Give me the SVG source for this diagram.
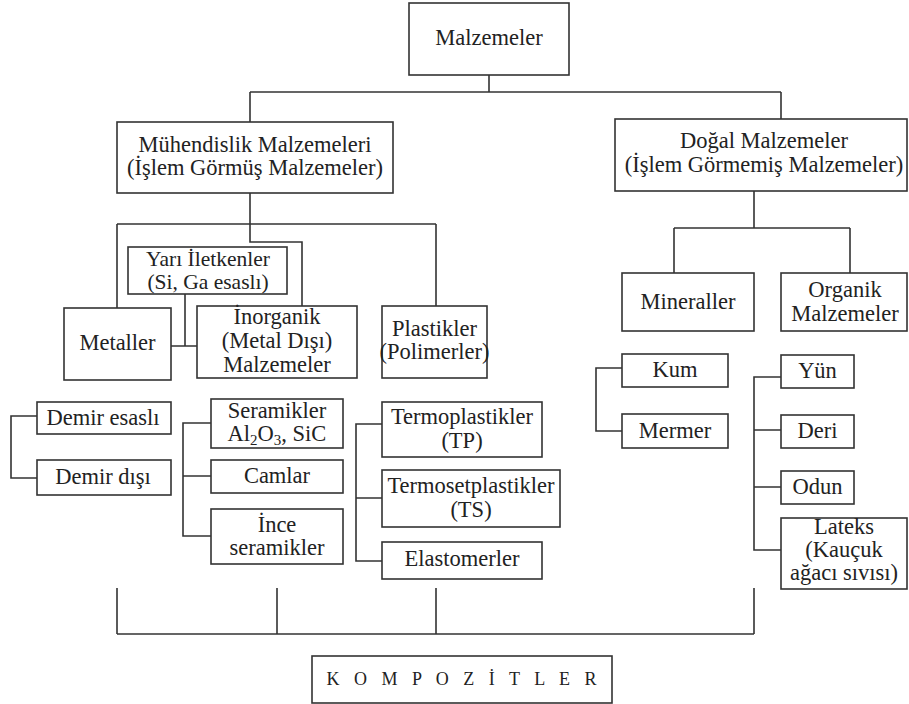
<svg xmlns="http://www.w3.org/2000/svg" width="909" height="704" viewBox="0 0 909 704">
<style>
.box{fill:#fff;stroke:#333;stroke-width:1.6}
.t{font-family:"Liberation Serif","Times New Roman",serif;font-size:22.5px;fill:#222;text-anchor:middle}
.s{font-size:21.5px}
.k{font-family:"Liberation Serif","Times New Roman",serif;font-size:18px;fill:#222;text-anchor:middle;letter-spacing:5px}
.c{fill:none;stroke:#333;stroke-width:1.6}
</style>
<rect width="909" height="704" fill="#fff"/>
<g id="connectors" class="c">
<path d="M489,75V92M250,92H781M250,92V122M781,92V119"/>
<path d="M250,193V242H302V306M117,224H436M117,224V308M436,224V306"/>
<path d="M185,294V346M171,346H197"/>
<path d="M754,191V228M674,228H850M674,228V273M850,228V273"/>
<path d="M37,416H11V478H37"/>
<path d="M211,423H183V536H211M183,476H211"/>
<path d="M382,424H356V561H382M356,498H382"/>
<path d="M622,368H596V431H622"/>
<path d="M781,377H754V550H781M754,430H781M754,487H781"/>
<path d="M117,588V634M277,588V634M436,588V634M754,588V634M117,634H754"/>
</g>
<g id="malzemeler"><rect class="box" x="409" y="3" width="160" height="72"/><text class="t" x="489" y="45">Malzemeler</text></g>
<g id="muhendislik"><rect class="box" x="117" y="122" width="276" height="71"/><text class="t" x="255" y="152">Mühendislik Malzemeleri</text><text class="t" x="255" y="175">(İşlem Görmüş Malzemeler)</text></g>
<g id="dogal"><rect class="box" x="615" y="119" width="292" height="72"/><text class="t" x="764" y="148">Doğal Malzemeler</text><text class="t" x="764" y="172">(İşlem Görmemiş Malzemeler)</text></g>
<g id="yari"><rect class="box" x="128" y="247" width="159" height="47"/><text class="t s" x="208" y="266">Yarı İletkenler</text><text class="t s" x="208" y="289">(Si, Ga esaslı)</text></g>
<g id="metaller"><rect class="box" x="64" y="308" width="107" height="72"/><text class="t" x="117.5" y="350">Metaller</text></g>
<g id="inorganik"><rect class="box" x="197" y="306" width="160" height="72"/><text class="t" x="277" y="324">İnorganik</text><text class="t" x="277" y="348">(Metal Dışı)</text><text class="t" x="277" y="372">Malzemeler</text></g>
<g id="plastikler"><rect class="box" x="382" y="306" width="105" height="72"/><text class="t" x="434.5" y="336">Plastikler</text><text class="t" x="434.5" y="359">(Polimerler)</text></g>
<g id="mineraller"><rect class="box" x="622" y="273" width="132" height="58"/><text class="t" x="688" y="309">Mineraller</text></g>
<g id="organik"><rect class="box" x="781" y="273" width="126" height="58"/><text class="t" x="845" y="297">Organik</text><text class="t" x="845" y="321">Malzemeler</text></g>
<g id="demir-esasli"><rect class="box" x="37" y="402" width="134" height="32"/><text class="t" x="103" y="425">Demir esaslı</text></g>
<g id="demir-disi"><rect class="box" x="37" y="460" width="134" height="35"/><text class="t" x="103" y="484">Demir dışı</text></g>
<g id="seramikler"><rect class="box" x="211" y="399" width="132" height="49"/><text class="t" x="277" y="418">Seramikler</text><text class="t" x="277" y="441">Al<tspan font-size="15" dy="4">2</tspan><tspan dy="-4">O</tspan><tspan font-size="15" dy="4">3</tspan><tspan dy="-4">, SiC</tspan></text></g>
<g id="camlar"><rect class="box" x="211" y="460" width="132" height="33"/><text class="t" x="277" y="483">Camlar</text></g>
<g id="ince"><rect class="box" x="211" y="509" width="132" height="55"/><text class="t" x="277" y="532">İnce</text><text class="t" x="277" y="555">seramikler</text></g>
<g id="termoplastikler"><rect class="box" x="382" y="402" width="160" height="55"/><text class="t" x="462" y="424">Termoplastikler</text><text class="t" x="462" y="448">(TP)</text></g>
<g id="termoset"><rect class="box" x="382" y="470" width="178" height="57"/><text class="t" x="471" y="493">Termosetplastikler</text><text class="t" x="471" y="517">(TS)</text></g>
<g id="elastomerler"><rect class="box" x="382" y="542" width="160" height="37"/><text class="t" x="462" y="566">Elastomerler</text></g>
<g id="kum"><rect class="box" x="622" y="354" width="106" height="33"/><text class="t" x="675" y="377">Kum</text></g>
<g id="mermer"><rect class="box" x="622" y="414" width="106" height="34"/><text class="t" x="675" y="438">Mermer</text></g>
<g id="yun"><rect class="box" x="781" y="355" width="73" height="33"/><text class="t" x="817.5" y="378">Yün</text></g>
<g id="deri"><rect class="box" x="781" y="415" width="73" height="33"/><text class="t" x="817.5" y="438">Deri</text></g>
<g id="odun"><rect class="box" x="781" y="471" width="73" height="33"/><text class="t" x="817.5" y="494">Odun</text></g>
<g id="lateks"><rect class="box" x="781" y="518" width="126" height="71"/><text class="t" x="844" y="534">Lateks</text><text class="t" x="844" y="557">(Kauçuk</text><text class="t" x="844" y="580">ağacı sıvısı)</text></g>
<g id="kompozitler"><rect class="box" x="312" y="656" width="300" height="47"/><text class="k" x="464" y="685">K O M P O Z İ T L E R</text></g>
</svg>
